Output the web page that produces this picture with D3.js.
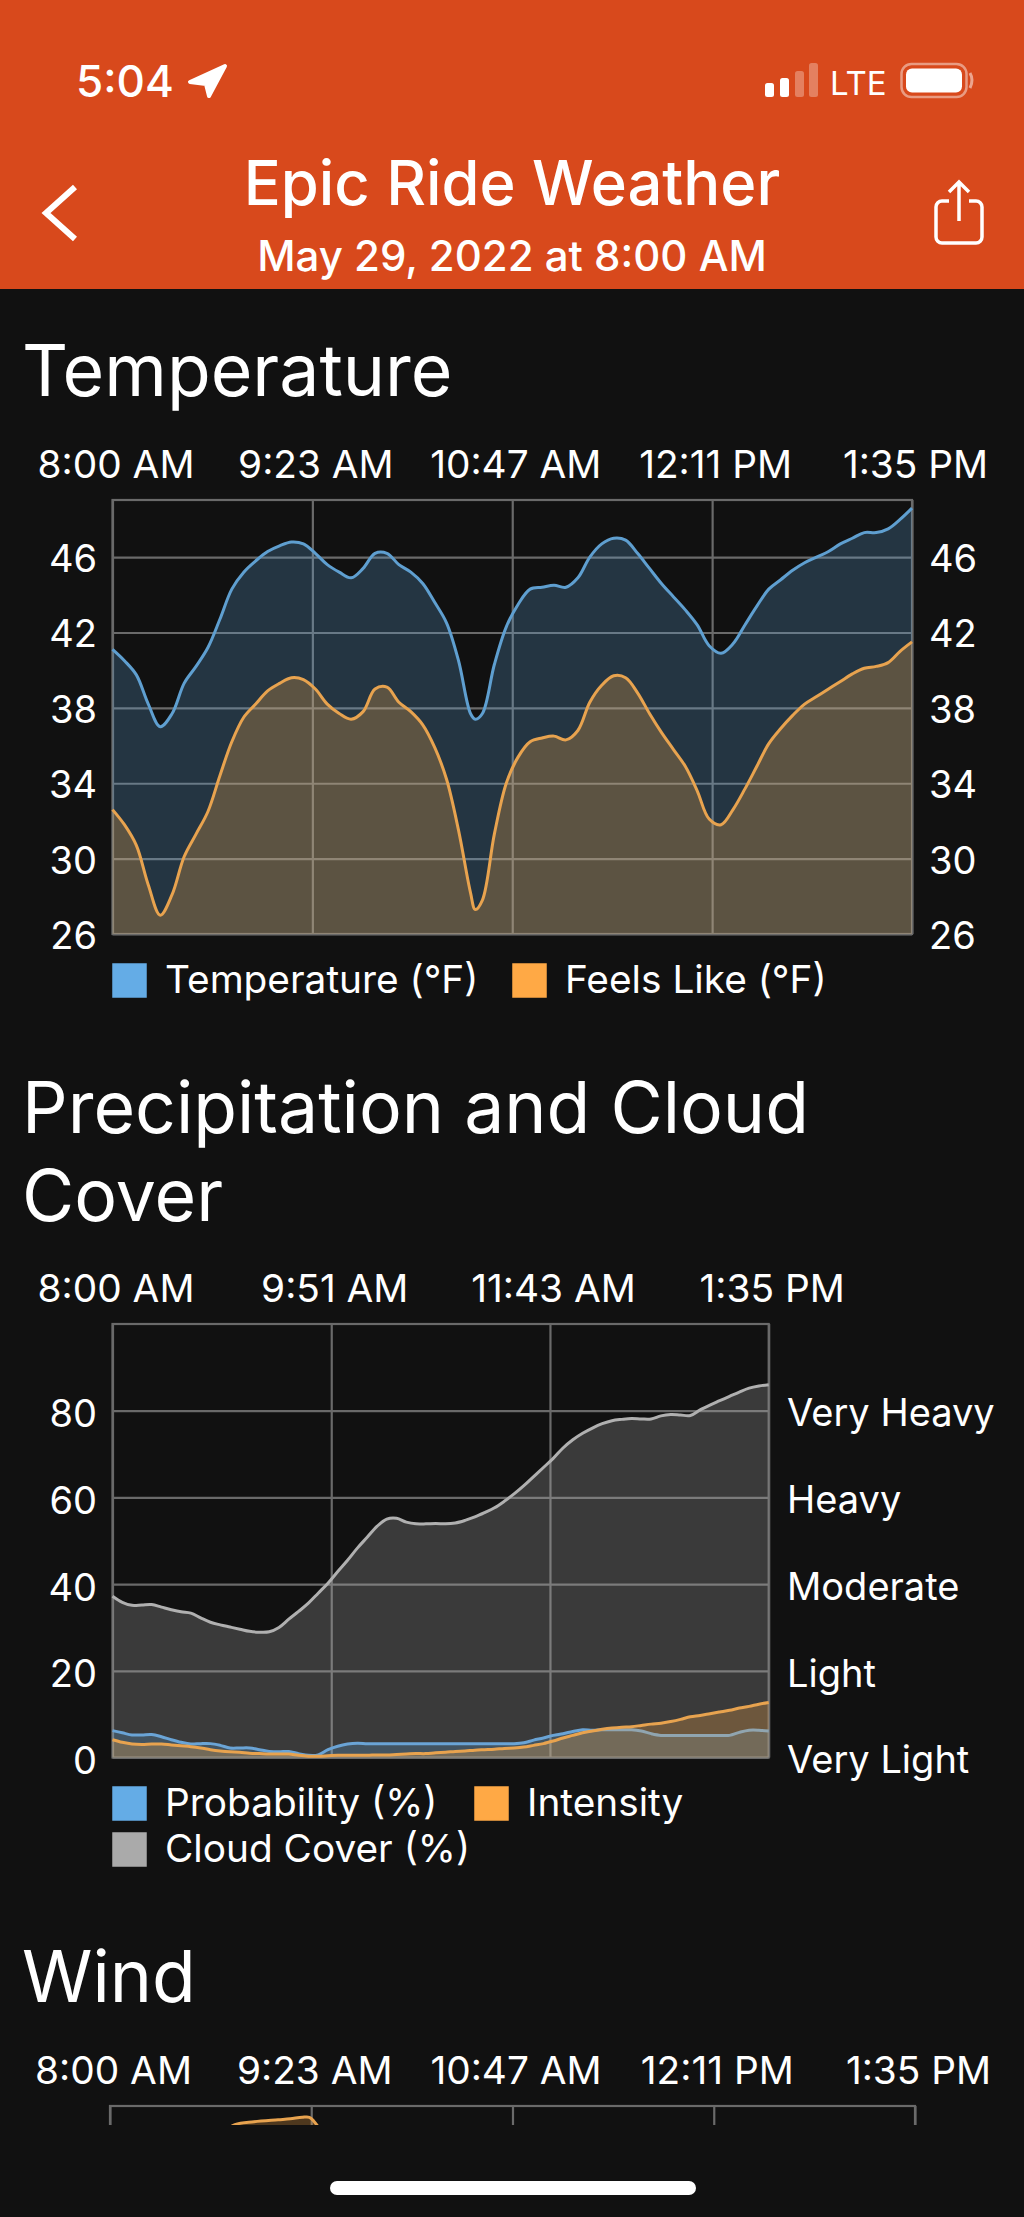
<!DOCTYPE html>
<html><head><meta charset="utf-8">
<script src="https://cdnjs.cloudflare.com/ajax/libs/d3/7.8.5/d3.min.js"></script>
<style>
html,body{margin:0;padding:0;background:#111;}
svg{display:block;}
text{font-family:Inter,"Noto Sans",sans-serif;fill:#fff;}
</style></head><body>
<div id="c"></div>
<script>
const minutes=[0,5,10,15,20,25,30,35,40,45,50,55,60,65,70,75,80,85,90,95,100,105,110,115,120,125,130,135,140,145,150,152,155,160,165,170,175,180,185,190,195,200,205,210,215,220,225,230,235,240,245,250,255,260,265,270,275,280,285,290,295,300,305,310,315,320,325,330,335];
const temperature=[41.1,40.5,39.75,38.2,37.0,37.7,39.3,40.2,41.2,42.7,44.3,45.2,45.8,46.3,46.6,46.8,46.7,46.2,45.6,45.2,44.9,45.4,46.2,46.2,45.6,45.2,44.6,43.6,42.5,40.5,37.7,37.4,37.7,40.3,42.3,43.5,44.3,44.4,44.5,44.4,44.9,46.0,46.7,47.0,46.9,46.2,45.4,44.6,43.9,43.2,42.4,41.3,40.9,41.4,42.4,43.4,44.3,44.8,45.3,45.7,46.0,46.3,46.7,47.0,47.3,47.3,47.5,48.0,48.6];
const feelsLike=[32.6,31.8,30.7,28.6,27.0,28.1,30.1,31.3,32.5,34.4,36.2,37.5,38.2,38.9,39.3,39.6,39.5,39.0,38.2,37.7,37.4,37.8,39.0,39.1,38.3,37.8,37.1,35.9,34.2,31.5,28.2,27.3,27.8,31.3,34.0,35.4,36.2,36.4,36.5,36.3,36.8,38.3,39.2,39.7,39.6,38.8,37.7,36.7,35.8,34.9,33.6,32.1,31.8,32.6,33.7,34.9,36.1,36.9,37.6,38.2,38.6,39.0,39.4,39.8,40.1,40.2,40.4,41.0,41.5];
const precipMinutes=d3.range(0,340,5);
const probability=[6.2,5.7,5.2,5.2,5.3,4.8,4.1,3.5,3.1,3.2,3.2,2.8,2.2,2.2,2.2,1.8,1.4,1.3,1.4,0.9,0.5,0.6,1.8,2.6,3.1,3.3,3.2,3.2,3.2,3.2,3.2,3.2,3.2,3.2,3.2,3.2,3.2,3.2,3.2,3.2,3.2,3.2,3.4,4.0,4.5,5.1,5.5,6.0,6.4,6.3,6.4,6.4,6.4,6.4,6.1,5.5,5.1,5.1,5.1,5.1,5.1,5.1,5.1,5.1,5.8,6.3,6.3,6.1];
const intensity=[4.1,3.5,3.1,3.0,3.1,3.1,2.9,2.7,2.5,2.2,1.8,1.5,1.3,1.2,1.0,0.9,0.8,0.8,0.8,0.5,0.3,0.3,0.4,0.5,0.5,0.5,0.5,0.6,0.6,0.7,0.8,0.9,0.9,1.1,1.2,1.4,1.5,1.7,1.8,1.9,2.1,2.2,2.4,2.8,3.2,3.8,4.5,5.1,5.7,6.1,6.5,6.8,7.0,7.1,7.4,7.7,7.9,8.3,8.8,9.4,9.7,10.1,10.5,10.9,11.4,11.8,12.3,12.7];
const cloudCover=[37.2,35.8,35.1,35.2,35.3,34.7,34.1,33.6,33.3,32.2,31.2,30.6,30.1,29.6,29.1,28.9,29.0,30.0,31.9,33.7,35.6,37.9,40.2,42.9,45.5,48.3,50.8,53.3,55.0,55.2,54.3,53.9,53.9,54.0,53.9,54.1,54.7,55.5,56.5,57.6,59.1,60.8,62.7,64.8,66.9,69.0,71.4,73.3,74.8,76.0,77.0,77.7,78.0,78.2,78.1,78.1,78.8,79.1,79.0,78.9,80.2,81.3,82.3,83.3,84.3,85.2,85.7,86.0];
const windMinutes=[45,52,60,70,75,80,83,85,88,92];
const windGust=[29.0,30.1,30.4,30.6,30.7,30.85,30.85,30.4,29.4,28.0];
const timeLabels5=["8:00 AM","9:23 AM","10:47 AM","12:11 PM","1:35 PM"];
const timeTicks5=[0,83.75,167.5,251.25,335];
const timeLabels4=["8:00 AM","9:51 AM","11:43 AM","1:35 PM"];
const timeTicks4=[0,111.67,223.33,335];
const tempTicks=[26,30,34,38,42,46];
const pctTicks=[0,20,40,60,80];
const intensityLabels=["Very Light","Light","Moderate","Heavy","Very Heavy"];
const signalBars=[[765,83,14,1],[780,78,19,1],[795,71,26,.3],[809,63,34,.3]];

const W=1024,H=2217;
const BLUE="#64ace6",ORANGE="#ffa945",GREY="#aaaaaa";
const svg=d3.select("#c").append("svg").attr("width",W).attr("height",H);
svg.append("rect").attr("width",W).attr("height",H).attr("fill","#111111");

/* header */
const hd=svg.append("g");
hd.append("rect").attr("width",W).attr("height",289).attr("fill","#d8491c");
hd.append("text").attr("x",76).attr("y",97).attr("font-size",44).attr("font-weight",500).text("5:04");
hd.append("path").attr("d","M225 66 L190 82 L206 84 L209 96 Z").attr("fill","#fff").attr("stroke","#fff").attr("stroke-width",4).attr("stroke-linejoin","round");
signalBars.forEach(b=>hd.append("rect").attr("x",b[0]).attr("y",b[1]).attr("width",9).attr("height",b[2]).attr("rx",2.5).attr("fill","#fff").attr("opacity",b[3]));
hd.append("text").attr("x",830).attr("y",95).attr("font-size",33).attr("font-weight",400).text("LTE");
hd.append("rect").attr("x",901.5).attr("y",64).attr("width",65).attr("height",33).attr("rx",10).attr("fill","none").attr("stroke","#fff").attr("stroke-opacity",.45).attr("stroke-width",2.5);
hd.append("rect").attr("x",906).attr("y",68.5).attr("width",56).attr("height",24).attr("rx",6).attr("fill","#fff");
hd.append("path").attr("d","M970 73 q4 7 0 15").attr("fill","none").attr("stroke","#fff").attr("stroke-opacity",.5).attr("stroke-width",3);
hd.append("text").attr("x",512).attr("y",205).attr("text-anchor","middle").attr("font-size",61.5).attr("font-weight",500).text("Epic Ride Weather");
hd.append("text").attr("x",512).attr("y",271).attr("text-anchor","middle").attr("font-size",42).attr("font-weight",500).text("May 29, 2022 at 8:00 AM");
hd.append("path").attr("d","M75 187 L46 213 L75 239").attr("fill","none").attr("stroke","#fff").attr("stroke-width",6);
hd.append("path").attr("d","M949 201 H942 a6 6 0 0 0 -6 6 V237 a6 6 0 0 0 6 6 H976 a6 6 0 0 0 6 -6 V207 a6 6 0 0 0 -6 -6 H969 M959 221 V183 M949 192 L959 182 L969 192").attr("fill","none").attr("stroke","#fff").attr("stroke-width",3.5);

/* section titles */
function title(t,y){svg.append("text").attr("x",22).attr("y",y).attr("font-size",71.5).attr("font-weight",400).text(t);}
title("Temperature",396);
title("Precipitation and Cloud",1133);
title("Cover",1221);
title("Wind",2002);

function frame(g,x,y,xTicks,xLabels,yTicks){
  const [x0,x1]=x.range(),[y0,y1]=y.range();
  g.append("g").attr("transform",`translate(3,${y1})`)
    .call(d3.axisTop(x).tickValues(xTicks).tickSize(8).tickFormat((d,i)=>xLabels[i]))
    .call(s=>s.select(".domain").remove())
    .call(s=>s.selectAll("line").remove())
    .call(s=>s.selectAll("text").attr("font-size",38.8).attr("font-weight",400).attr("dy",0).attr("y",-22).attr("fill","#fff"));
  const grid=g.append("g").attr("fill","none").attr("stroke","#6a6a6a").attr("stroke-width",2.2);
  grid.append("g").attr("transform",`translate(0,${y0})`)
    .call(d3.axisBottom(x).tickValues(xTicks).tickSize(y1-y0).tickFormat(""))
    .call(s=>s.select(".domain").remove());
  grid.append("g").attr("transform",`translate(${x0},0)`)
    .call(d3.axisRight(y).tickValues(yTicks).tickSize(x1-x0).tickFormat(""))
    .call(s=>s.select(".domain").remove());
  grid.selectAll("line").attr("stroke","#6a6a6a");
  grid.append("rect").attr("x",x0).attr("y",y1).attr("width",x1-x0).attr("height",y0-y1);
  return grid;
}
function areaLine(g,x,y,ts,vs,color,fillOp,lineColor){
  const pts=ts.map((t,i)=>[t,vs[i]]);
  const base=y.range()[0];
  const curve=d3.curveCatmullRom.alpha(0.5);
  g.append("path").datum(pts).attr("fill",color).attr("fill-opacity",fillOp)
    .attr("d",d3.area().x(d=>x(d[0])).y0(base).y1(d=>y(d[1])).curve(curve));
  g.append("path").datum(pts).attr("fill","none").attr("stroke",lineColor||color).attr("stroke-width",3)
    .attr("d",d3.line().x(d=>x(d[0])).y(d=>y(d[1])).curve(curve));
}
function legend(items){
  items.forEach(it=>{
    svg.append("rect").attr("x",it.x+1).attr("y",it.y-16).attr("width",33).attr("height",33)
      .attr("fill",it.c).attr("stroke",it.c).attr("stroke-width",1.5);
    svg.append("text").attr("x",it.x+53).attr("y",it.y+13).attr("font-size",38.8).attr("font-weight",400).text(it.t);
  });
}
function yLabels(g,axis,xPos,size,dy){
  g.append("g").attr("transform",`translate(${xPos},0)`).call(axis)
   .call(s=>s.select(".domain").remove())
   .call(s=>s.selectAll("line").remove())
   .call(s=>s.selectAll("text").attr("font-size",size).attr("x",0).attr("dy",dy).attr("fill","#fff"));
}

/* temperature */
{
  const g=svg.append("g");
  const x=d3.scaleLinear().domain([0,335]).range([112.5,912]);
  const y=d3.scaleLinear().domain([26,49.03]).range([934,500]);
  frame(g,x,y,timeTicks5,timeLabels5,tempTicks);
  areaLine(g,x,y,minutes,temperature,BLUE,.23,"#5f9fd0");
  areaLine(g,x,y,minutes,feelsLike,ORANGE,.26,"#e8a34f");
  yLabels(g,d3.axisLeft(y).tickValues(tempTicks).tickFormat(d3.format("d")),97,38,".38em");
  yLabels(g,d3.axisRight(y).tickValues(tempTicks).tickFormat(d3.format("d")),929,38,".38em");
  legend([{x:112,y:980,c:BLUE,t:"Temperature (°F)"},{x:512,y:980,c:ORANGE,t:"Feels Like (°F)"}]);
}
/* precipitation */
{
  const g=svg.append("g");
  const x=d3.scaleLinear().domain([0,335]).range([112.5,768.7]);
  const y=d3.scaleLinear().domain([0,100]).range([1757.5,1324]);
  frame(g,x,y,timeTicks4,timeLabels4,pctTicks);
  areaLine(g,x,y,precipMinutes,cloudCover,GREY,.27,"#b0b0b0");
  areaLine(g,x,y,precipMinutes,probability,BLUE,.23,"#6aa4d6");
  areaLine(g,x,y,precipMinutes,intensity,ORANGE,.26,"#e8a34f");
  yLabels(g,d3.axisLeft(y).tickValues(pctTicks).tickFormat(d3.format("d")),97,38,".42em");
  yLabels(g,d3.axisRight(y).tickValues(pctTicks).tickFormat((d,i)=>intensityLabels[i]),787,38,".4em");
  legend([{x:112,y:1803,c:BLUE,t:"Probability (%)"},{x:474,y:1803,c:ORANGE,t:"Intensity"},{x:112,y:1849,c:GREY,t:"Cloud Cover (%)"}]);
}
/* wind, scrolled off below the fold */
{
  const g=svg.append("g");
  const clip=svg.append("clipPath").attr("id","wc");
  clip.append("rect").attr("x",0).attr("y",2090).attr("width",W).attr("height",35);
  const x=d3.scaleLinear().domain([0,335]).range([110,915]);
  const y=d3.scaleLinear().domain([0,32]).range([2420,2106]);
  const grid=frame(g,x,y,timeTicks5,timeLabels5,[]);
  grid.attr("clip-path","url(#wc)");
  const body=svg.append("g").attr("clip-path","url(#wc)");
  areaLine(body,x,y,windMinutes,windGust,ORANGE,.26,"#e8a34f");
}
/* home indicator */
svg.append("rect").attr("x",330).attr("y",2181).attr("width",366).attr("height",14).attr("rx",7).attr("fill","#fff");
</script>
</body></html>
